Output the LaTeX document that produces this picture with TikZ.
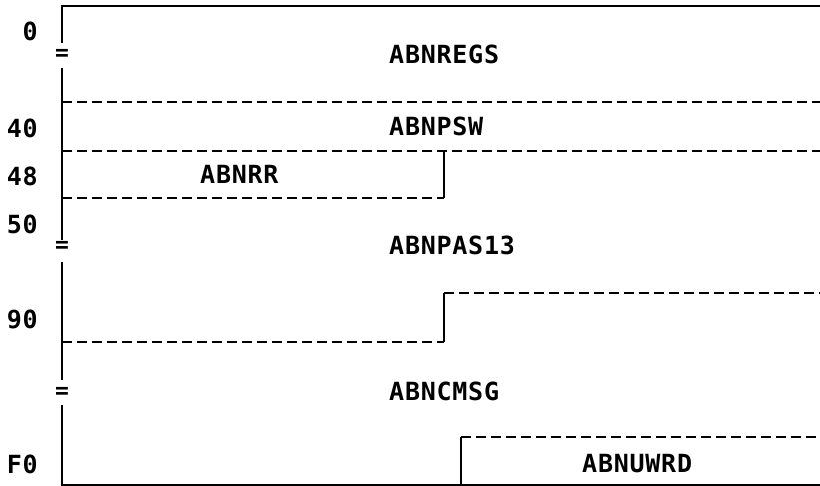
\documentclass[tikz,border=0pt]{standalone}
\usepackage{fontspec}
\newfontfamily\diafont[LetterSpace=3]{DejaVu Sans Mono Bold}
\begin{document}
\begin{tikzpicture}[x=1pt,y=-1pt,
  solidln/.style={line width=2.8pt},
  dashln/.style={line width=2.2pt, dash pattern=on 10pt off 5pt},
  lbl/.style={inner sep=0pt, font=\diafont\fontsize{25}{25}\selectfont, anchor=base west},
  num/.style={inner sep=0pt, font=\diafont\fontsize{25}{25}\selectfont, anchor=base east},
  brk/.style={inner sep=0pt, font=\diafont\fontsize{23}{23}\selectfont}]
\useasboundingbox (0,0) rectangle (820,486);
% frame
\draw[solidln] (820,6) -- (62,6) -- (62,43);
\draw[solidln] (62,68) -- (62,240);
\draw[solidln] (62,262) -- (62,380);
\draw[solidln] (62,405) -- (62,485) -- (820,485);
\node[brk] (b1) at (62,55) {=};
\node[brk] (b2) at (62,247) {=};
\node[brk] (b3) at (62,393) {=};
% fields
\draw[dashln] (62,102) -- (820,102);
\draw[dashln] (62,151) -- (820,151);
\draw[solidln] (444,151) -- (444,198);
\draw[dashln] (62,198) -- (444,198);
\draw[dashln] (444,293) -- (820,293);
\draw[solidln] (444,293) -- (444,342);
\draw[dashln] (62,342) -- (444,342);
\draw[dashln] (461,437) -- (820,437);
\draw[solidln] (461,437) -- (461,485);
% labels
\node[lbl] (regs) at (389,64) {ABNREGS};
\node[lbl] (psw) at (389,136) {ABNPSW};
\node[lbl] (rr) at (200,184) {ABNRR};
\node[lbl] (pas) at (389,255) {ABNPAS13};
\node[lbl] (cmsg) at (389,401) {ABNCMSG};
\node[lbl] (uwrd) at (582,472) {ABNUWRD};
% offsets
\node[num] (o0) at (38,41) {0};
\node[num] (o40) at (38,138) {40};
\node[num] (o48) at (38,186) {48};
\node[num] (o50) at (38,234) {50};
\node[num] (o90) at (38,329) {90};
\node[num] (oF0) at (38,473) {F0};
\end{tikzpicture}
\end{document}
